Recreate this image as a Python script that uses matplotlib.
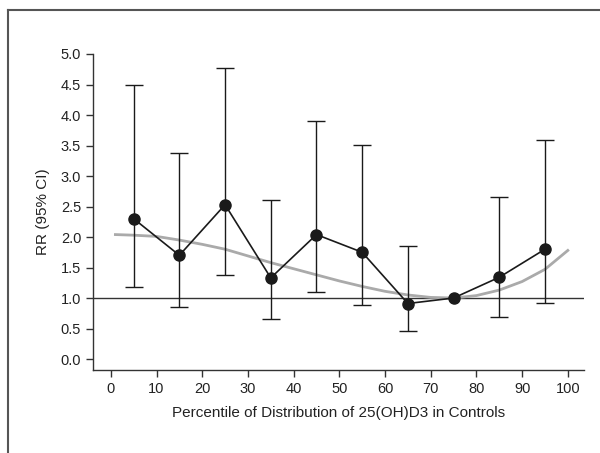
import numpy as np
import matplotlib.pyplot as plt
from matplotlib.lines import Line2D

# decile midpoints, RR and 95% CI (75th = reference, no CI)
pct = [5, 15, 25, 35, 45, 55, 65, 75, 85, 95]
rr = [2.30, 1.70, 2.53, 1.33, 2.04, 1.75, 0.91, 1.00, 1.34, 1.80]
ci_lo = [1.18, 0.85, 1.38, 0.66, 1.10, 0.885, 0.46, np.nan, 0.69, 0.92]
ci_hi = [4.50, 3.38, 4.77, 2.60, 3.90, 3.51, 1.85, np.nan, 2.65, 3.59]

# smooth spline fit
fit_x = [1, 5, 10, 15, 20, 25, 30, 35, 40, 45, 50, 55, 60, 65, 70, 75, 80, 85, 90, 95, 100]
fit_y = [2.04, 2.03, 2.01, 1.95, 1.88, 1.80, 1.69, 1.58, 1.48, 1.38, 1.28, 1.19,
         1.11, 1.05, 1.01, 1.00, 1.04, 1.13, 1.27, 1.47, 1.78]

xticks = list(range(0, 101, 10))
yticks = [0.0, 0.5, 1.0, 1.5, 2.0, 2.5, 3.0, 3.5, 4.0, 4.5, 5.0]

plt.rcParams['font.family'] = ['Liberation Sans', 'DejaVu Sans']
txt = '#222222'

fig = plt.figure(figsize=(6, 4.53), dpi=100)
ax = fig.add_axes([0.155, 0.1832, 0.818, 0.6976])

ax.plot(fit_x, fit_y, color='#aaaaaa', lw=2, zorder=2)
ax.axhline(1.0, color='#333333', lw=1, zorder=1)

x = np.array(pct, dtype=float)
lo = np.array(ci_lo)
hi = np.array(ci_hi)
y = np.array(rr)
m = ~np.isnan(lo)
ax.errorbar(x[m], y[m], yerr=[y[m] - lo[m], hi[m] - y[m]], fmt='none',
            ecolor='#1a1a1a', elinewidth=1, capsize=6.5, capthick=1, zorder=3)
ax.plot(x, y, color='#1a1a1a', lw=1.2, marker='o', ms=8, mfc='#1a1a1a',
        mec='#1a1a1a', zorder=4)

ax.set_xlim(-3.9, 103.5)
ax.set_ylim(-0.18, 5.0)
ax.set_xticks(xticks)
ax.set_yticks(yticks)
ax.set_yticklabels([f'{v:.1f}' for v in yticks])
for s in ['top', 'right']:
    ax.spines[s].set_visible(False)
for s in ['left', 'bottom']:
    ax.spines[s].set_color('#333333')
    ax.spines[s].set_linewidth(1)
ax.tick_params(colors='#333333', labelcolor=txt, labelsize=10.5, length=5, width=1)
ax.set_ylabel('RR (95% CI)', fontsize=11, color=txt, labelpad=8)
ax.set_xlabel('Percentile of Distribution of 25(OH)D3 in Controls',
              fontsize=11, color=txt, labelpad=7)

# outer frame (left and top edges visible)
fx0 = 8 / 600
fy0 = 1 - 10 / 453
fig.add_artist(Line2D([fx0, fx0], [-0.1, fy0], transform=fig.transFigure,
                      color='#555555', lw=1.5))
fig.add_artist(Line2D([fx0, 1.1], [fy0, fy0], transform=fig.transFigure,
                      color='#555555', lw=1.5))

fig.savefig('out.png', dpi=100)
